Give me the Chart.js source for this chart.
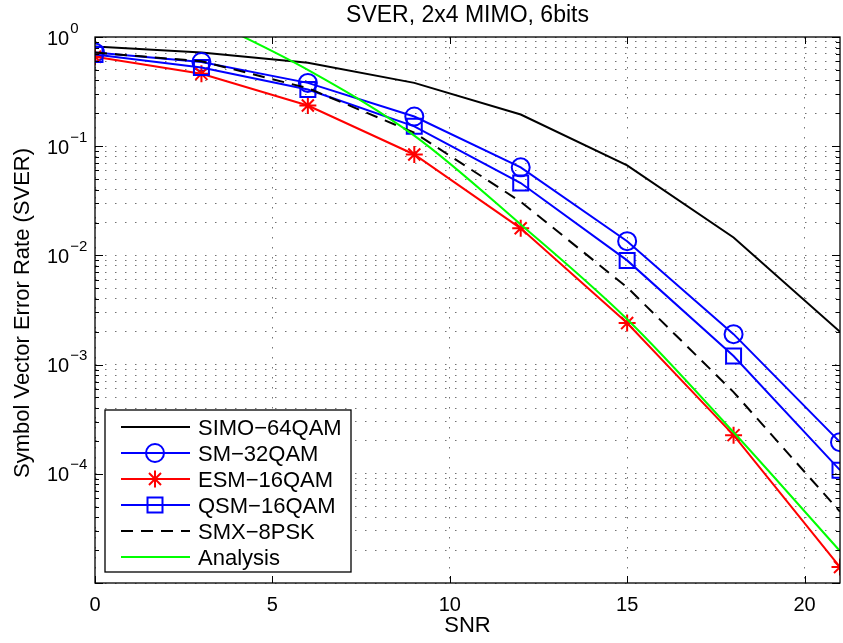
<!DOCTYPE html>
<html>
<head>
<meta charset="utf-8">
<script src="https://cdn.jsdelivr.net/npm/chart.js@4.4.1/dist/chart.umd.min.js"></script>
<style>
  html, body { margin: 0; padding: 0; background: #fff; }
  canvas { display: block; }
</style>
</head>
<body>
<canvas id="sverChart" width="843" height="643"></canvas>
<script>
// data
var snr = [0, 3, 6, 9, 12, 15, 18, 21];
var simo64qam = [0.82, 0.72, 0.58, 0.38, 0.195, 0.0667, 0.0146, 0.0020];
var sm32qam = [0.72, 0.59, 0.38, 0.187, 0.064, 0.0135, 0.0019, 1.95e-4];
var esm16qam = [0.66, 0.46, 0.236, 0.084, 0.0177, 0.0024, 2.26e-4, 1.4e-5];
var qsm16qam = [0.69, 0.525, 0.33, 0.152, 0.046, 0.009, 0.0012, 1.08e-4];
var smx8psk = [0.72, 0.60, 0.34, 0.133, 0.031, 0.0051, 5.6e-4, 4.5e-5];
var analysisSnr = [3, 6, 9, 12, 15, 18, 21];
var analysis = [1.55, 0.50, 0.125, 0.0192, 0.0026, 2.4e-4, 1.96e-5];

var xTicks = [0, 5, 10, 15, 20];
var yDecades = [0, -1, -2, -3, -4, -5];

var FONT = '"Liberation Sans", Arial, Helvetica, sans-serif';

function pts(xs, ys) {
  return xs.map(function (x, i) { return { x: x, y: ys[i] }; });
}

function drawMarker(ctx, style, r, x, y) {
  ctx.beginPath();
  if (style === 'circle') {
    ctx.arc(x, y, r, 0, Math.PI * 2);
  } else if (style === 'rect') {
    var s = Math.SQRT1_2 * r;
    ctx.rect(x - s, y - s, 2 * s, 2 * s);
  } else if (style === 'star') {
    var d = r * Math.SQRT1_2;
    ctx.moveTo(x - r, y); ctx.lineTo(x + r, y);
    ctx.moveTo(x, y - r); ctx.lineTo(x, y + r);
    ctx.moveTo(x - d, y - d); ctx.lineTo(x + d, y + d);
    ctx.moveTo(x - d, y + d); ctx.lineTo(x + d, y - d);
  }
  ctx.stroke();
}

var matlabLook = {
  id: 'matlabLook',
  afterDraw: function (chart) {
    var ctx = chart.ctx;
    var a = chart.chartArea;
    var xs = chart.scales.x;
    var ys = chart.scales.y;
    ctx.save();

    // box
    ctx.strokeStyle = '#000';
    ctx.lineWidth = 1.3;
    ctx.setLineDash([]);
    ctx.strokeRect(a.left, a.top, a.right - a.left, a.bottom - a.top);

    // inward ticks
    ctx.lineWidth = 1;
    ctx.beginPath();
    ys.ticks.forEach(function (t) {
      var py = Math.round(ys.getPixelForValue(t.value)) + 0.5;
      var m = t.value / Math.pow(10, Math.floor(Math.log10(t.value) + 1e-9));
      var len = Math.abs(m - 1) < 1e-6 ? 8 : 4;
      ctx.moveTo(a.left, py); ctx.lineTo(a.left + len, py);
      ctx.moveTo(a.right, py); ctx.lineTo(a.right - len, py);
    });
    xTicks.forEach(function (v) {
      var px = Math.round(xs.getPixelForValue(v)) + 0.5;
      ctx.moveTo(px, a.bottom); ctx.lineTo(px, a.bottom - 7);
      ctx.moveTo(px, a.top); ctx.lineTo(px, a.top + 7);
    });
    ctx.stroke();

    ctx.fillStyle = '#000';

    // x tick labels
    ctx.font = '20px ' + FONT;
    ctx.textAlign = 'center';
    ctx.textBaseline = 'alphabetic';
    xTicks.forEach(function (v) {
      ctx.fillText(String(v), xs.getPixelForValue(v), a.bottom + 28);
    });

    // y tick labels, 10^n
    yDecades.forEach(function (e) {
      var py = ys.getPixelForValue(Math.pow(10, e));
      if (py > a.bottom - 2) return;
      ctx.textAlign = 'left';
      ctx.font = '20px ' + FONT;
      var bx = a.left - 48;
      ctx.fillText('10', bx, py + 7.5);
      var w = ctx.measureText('10').width;
      ctx.font = '15px ' + FONT;
      ctx.fillText(e < 0 ? '\u2212' + (-e) : String(e), bx + w + 1, py - 4.5);
    });

    // titles
    ctx.font = '23px ' + FONT;
    ctx.textAlign = 'center';
    ctx.fillText('SVER, 2x4 MIMO, 6bits', (a.left + a.right) / 2, 22);
    ctx.font = '22px ' + FONT;
    ctx.fillText('SNR', (a.left + a.right) / 2, 632);
    ctx.save();
    ctx.translate(29, (a.top + a.bottom) / 2 + 3);
    ctx.rotate(-Math.PI / 2);
    ctx.fillText('Symbol Vector Error Rate (SVER)', 0, 0);
    ctx.restore();

    // legend box
    var lx = a.left + 10, ly = 410, lw = 246, lh = 162;
    ctx.fillStyle = '#fff';
    ctx.fillRect(lx, ly, lw, lh);
    ctx.strokeStyle = '#000';
    ctx.lineWidth = 1.3;
    ctx.strokeRect(lx, ly, lw, lh);
    ctx.font = '22px ' + FONT;
    ctx.textAlign = 'left';
    chart.data.datasets.forEach(function (ds, i) {
      var cy = 427 + i * 26;
      ctx.strokeStyle = ds.borderColor;
      ctx.lineWidth = ds.borderWidth;
      ctx.setLineDash(ds.borderDash || []);
      ctx.beginPath();
      ctx.moveTo(lx + 16, cy); ctx.lineTo(lx + 85, cy);
      ctx.stroke();
      ctx.setLineDash([]);
      if (ds.pointRadius > 0) {
        drawMarker(ctx, ds.pointStyle, ds.pointRadius, lx + 50, cy);
      }
      ctx.fillStyle = '#000';
      ctx.fillText(ds.label, lx + 93, cy + 8);
    });

    ctx.restore();
  }
};

var ctx1 = document.getElementById('sverChart');
var sverChart = new Chart(ctx1, {
  type: 'line',
  data: {
    datasets: [{
      label: 'SIMO\u221264QAM',
      data: pts(snr, simo64qam),
      borderColor: '#000000',
      borderWidth: 2,
      pointRadius: 0,
      order: 6
    }, {
      label: 'SM\u221232QAM',
      data: pts(snr, sm32qam),
      borderColor: '#0000ff',
      borderWidth: 2,
      pointStyle: 'circle',
      pointRadius: 9,
      pointBorderWidth: 2,
      pointBackgroundColor: 'rgba(0,0,0,0)',
      order: 5
    }, {
      label: 'ESM\u221216QAM',
      data: pts(snr, esm16qam),
      borderColor: '#ff0000',
      borderWidth: 2,
      pointStyle: 'star',
      pointRadius: 8.5,
      pointBorderWidth: 2,
      pointBackgroundColor: 'rgba(0,0,0,0)',
      order: 4
    }, {
      label: 'QSM\u221216QAM',
      data: pts(snr, qsm16qam),
      borderColor: '#0000ff',
      borderWidth: 2,
      pointStyle: 'rect',
      pointRadius: 10.6,
      pointBorderWidth: 2,
      pointBackgroundColor: 'rgba(0,0,0,0)',
      order: 3
    }, {
      label: 'SMX\u22128PSK',
      data: pts(snr, smx8psk),
      borderColor: '#000000',
      borderWidth: 2,
      borderDash: [12, 8],
      pointRadius: 0,
      order: 2
    }, {
      label: 'Analysis',
      data: pts(analysisSnr, analysis),
      borderColor: '#00ff00',
      borderWidth: 2,
      pointRadius: 0,
      cubicInterpolationMode: 'monotone',
      order: 1
    }]
  },
  options: {
    responsive: false,
    animation: false,
    events: [],
    layout: {
      autoPadding: false,
      padding: { left: 95, right: 3, top: 37, bottom: 60 }
    },
    plugins: {
      legend: { display: false },
      title: { display: false },
      tooltip: { enabled: false }
    },
    scales: {
      x: {
        type: 'linear',
        min: 0,
        max: 21,
        afterBuildTicks: function (scale) {
          scale.ticks = xTicks.map(function (v) { return { value: v }; });
        },
        ticks: { display: false },
        grid: { color: 'rgba(0,0,0,0.55)', lineWidth: 1, drawTicks: false },
        border: { display: false, dash: [1.5, 8.5] }
      },
      y: {
        type: 'logarithmic',
        min: 1e-5,
        max: 1,
        afterBuildTicks: function (scale) {
          var t = [];
          for (var e = -5; e < 0; e++) {
            for (var k = 1; k < 10; k++) {
              t.push({ value: k * Math.pow(10, e) });
            }
          }
          t.push({ value: 1 });
          scale.ticks = t;
        },
        ticks: { display: false },
        grid: { color: 'rgba(0,0,0,0.55)', lineWidth: 1, drawTicks: false },
        border: { display: false, dash: [1.5, 8.5] }
      }
    }
  },
  plugins: [matlabLook]
});
</script>
</body>
</html>
